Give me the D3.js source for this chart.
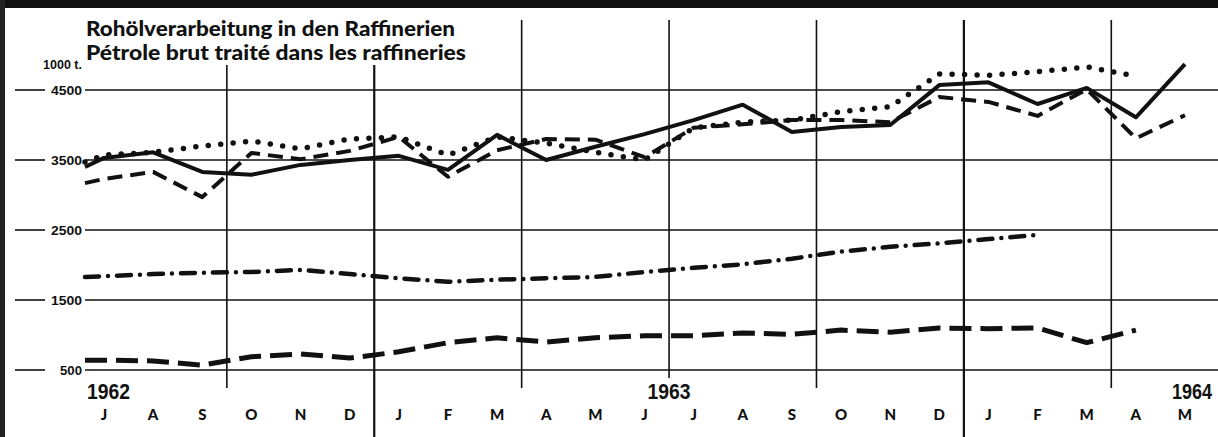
<!DOCTYPE html>
<html>
<head>
<meta charset="utf-8">
<style>
  body { margin: 0; background: #fff; }
  svg { display: block; }
  .title { font-family: Lato, "Open Sans", sans-serif; font-weight: 900; font-size: 21px; fill: #111; }
  .tick text { font-family: "Liberation Sans", Lato, sans-serif; font-weight: 700; font-size: 13px; fill: #111; }
  .unit { font-family: "Liberation Sans", Lato, sans-serif; font-weight: 700; font-size: 12.5px; fill: #111; }
  .year { font-family: "Liberation Sans", sans-serif; font-weight: 700; font-size: 22px; fill: #111; }
  .month { font-family: Lato, "Open Sans", sans-serif; font-weight: 900; font-size: 15px; fill: #111; }
  .series { fill: none; stroke: #111; }
</style>
</head>
<body>
<svg width="1218" height="437"></svg>
<script src="https://cdn.jsdelivr.net/npm/d3@7"></script>
<script>
var months = ["J","A","S","O","N","D","J","F","M","A","M","J","J","A","S","O","N","D","J","F","M","A","M"];
var years = [{label: "1962", i: 0}, {label: "1963", i: 11.5}, {label: "1964", i: 22}];
var yTicks = [500, 1500, 2500, 3500, 4500];

// monthly values from July 1962 (1000 t.); edge = where each curve leaves the left border
var solid    = [3530, 3610, 3330, 3290, 3430, 3500, 3560, 3360, 3860, 3500, 3690, 3870, 4070, 4290, 3900, 3970, 4000, 4570, 4610, 4300, 4530, 4110, 4870];
var dotted   = [3570, 3610, 3700, 3770, 3660, 3800, 3830, 3570, 3830, 3740, 3610, 3500, 3960, 4040, 4070, 4190, 4260, 4730, 4710, 4760, 4830, 4700];
var dashed   = [3230, 3330, 2970, 3600, 3510, 3630, 3830, 3260, 3640, 3800, 3790, 3540, 3960, 4010, 4070, 4070, 4040, 4400, 4330, 4130, 4510, 3810, 4140];
var dashdot  = [1840, 1870, 1890, 1900, 1930, 1870, 1810, 1760, 1790, 1810, 1830, 1900, 1960, 2010, 2090, 2190, 2260, 2310, 2370, 2430];
var longdash = [640, 630, 570, 690, 730, 670, 760, 890, 960, 900, 960, 990, 990, 1030, 1010, 1070, 1040, 1100, 1090, 1100, 890, 1070];
var edge     = {solid: 3400, dotted: 3470, dashed: 3170, dashdot: 1830, longdash: 640};

var svg = d3.select("svg"),
    width = +svg.attr("width"),
    height = +svg.attr("height"),
    plotLeft = 85;

var x = d3.scaleLinear().domain([0, 22]).range([104, 1185]),
    y = d3.scaleLinear().domain([500, 4500]).range([370, 90]);

// scan border
svg.append("rect").attr("x", 0).attr("y", 0).attr("width", width).attr("height", 8).attr("fill", "#111");
svg.append("rect").attr("x", 0).attr("y", 0).attr("width", 5).attr("height", height).attr("fill", "#222");

// horizontal grid
var grid = svg.append("g").attr("stroke", "#111").attr("stroke-width", 1.6);
grid.selectAll("line.g")
  .data(yTicks)
  .enter().append("line")
    .attr("x1", plotLeft).attr("x2", width)
    .attr("y1", function(d) { return y(d); })
    .attr("y2", function(d) { return y(d); });
grid.selectAll("line.s")
  .data(yTicks)
  .enter().append("line")
    .attr("x1", 15).attr("x2", 45)
    .attr("y1", function(d) { return y(d); })
    .attr("y2", function(d) { return y(d); });

var ticks = svg.append("g").attr("class", "tick");
ticks.selectAll("text")
  .data(yTicks)
  .enter().append("text")
    .attr("x", 82)
    .attr("y", function(d) { return y(d) + 5; })
    .attr("text-anchor", "end")
    .attr("textLength", function(d) { return d < 1000 ? 22 : 31; })
    .attr("lengthAdjust", "spacingAndGlyphs")
    .text(function(d) { return d; });

svg.append("text").attr("class", "unit")
    .attr("x", 82).attr("y", 69)
    .attr("text-anchor", "end")
    .text("1000 t.");

// quarter lines
var quarters = d3.range(2.5, 21, 3);
svg.append("g").attr("stroke", "#111")
  .selectAll("line")
  .data(quarters)
  .enter().append("line")
    .attr("x1", function(d) { return x(d); })
    .attr("x2", function(d) { return x(d); })
    .attr("y1", function(d) { return d < 6 ? 65 : 20; })
    .attr("y2", function(d) {
      if (d === 5.5 || d === 17.5) return height;
      if (d === 11.5) return 378;
      return 388;
    })
    .attr("stroke-width", function(d) { return (d === 5.5 || d === 17.5) ? 2.2 : 1.6; });

// series
var line = d3.line()
    .x(function(d) { return x(d.i); })
    .y(function(d) { return y(d.v); });

function points(values, start) {
  var pts = [{i: x.invert(plotLeft), v: start}];
  values.forEach(function(v, i) { pts.push({i: i, v: v}); });
  return pts;
}

var series = [
  {values: longdash, start: edge.longdash, w: 5, dash: "22,9", cap: "butt"},
  {values: dashdot, start: edge.dashdot, w: 4.5, dash: "14,9,0,9", cap: "round"},
  {values: dashed, start: edge.dashed, w: 4, dash: "15,8", cap: "butt"},
  {values: dotted, start: edge.dotted, w: 5.5, dash: "0,12.5", cap: "round"},
  {values: solid, start: edge.solid, w: 4, dash: null, cap: "butt"}
];

svg.append("g").selectAll("path")
  .data(series)
  .enter().append("path")
    .attr("class", "series")
    .attr("d", function(d) { return line(points(d.values, d.start)); })
    .attr("stroke-width", function(d) { return d.w; })
    .attr("stroke-dasharray", function(d) { return d.dash; })
    .attr("stroke-linecap", function(d) { return d.cap; })
    .attr("stroke-linejoin", "round");

// title
svg.append("text").attr("class", "title")
    .attr("x", 86).attr("y", 36)
    .attr("textLength", 369).attr("lengthAdjust", "spacingAndGlyphs")
    .text("Rohölverarbeitung in den Raffinerien");
svg.append("text").attr("class", "title")
    .attr("x", 86).attr("y", 60)
    .attr("textLength", 380).attr("lengthAdjust", "spacingAndGlyphs")
    .text("Pétrole brut traité dans les raffineries");

// x labels
svg.append("g").selectAll("text")
  .data(months)
  .enter().append("text")
    .attr("class", "month")
    .attr("x", function(d, i) { return x(i); })
    .attr("y", 420)
    .attr("text-anchor", "middle")
    .text(function(d) { return d; });

svg.append("g").selectAll("text")
  .data(years)
  .enter().append("text")
    .attr("class", "year")
    .attr("x", function(d) { return d.i === 0 ? 87 : d.i === 22 ? 1172 : x(d.i); })
    .attr("y", 399)
    .attr("text-anchor", function(d) { return d.i === 11.5 ? "middle" : "start"; })
    .attr("textLength", function(d) { return d.i === 22 ? 40 : 43; })
    .attr("lengthAdjust", "spacingAndGlyphs")
    .text(function(d) { return d.label; });
</script>
</body>
</html>
